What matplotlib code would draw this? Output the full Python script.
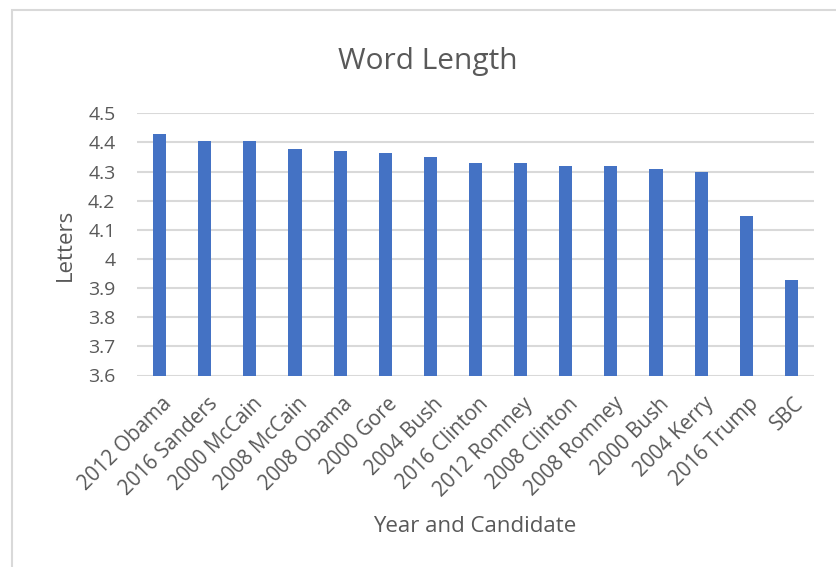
import numpy as np
import matplotlib.pyplot as plt
import matplotlib.transforms as mtransforms
from matplotlib.patches import Rectangle

# promedio de letras por palabra en cada discurso
candidatos = ["2012 Obama", "2016 Sanders", "2000 McCain", "2008 McCain", "2008 Obama",
              "2000 Gore", "2004 Bush", "2016 Clinton", "2012 Romney", "2008 Clinton",
              "2008 Romney", "2000 Bush", "2004 Kerry", "2016 Trump", "SBC"]
letras = [4.43, 4.406, 4.406, 4.377, 4.369, 4.365, 4.351, 4.328, 4.328,
          4.319, 4.319, 4.308, 4.298, 4.149, 3.927]
yticks = [3.6, 3.7, 3.8, 3.9, 4.0, 4.1, 4.2, 4.3, 4.4, 4.5]
ytick_labels = ["3.6", "3.7", "3.8", "3.9", "4", "4.1", "4.2", "4.3", "4.4", "4.5"]

gris = "#595959"
plt.rcParams['font.family'] = ['Open Sans', 'DejaVu Sans']

W, H = 836, 567
fig = plt.figure(figsize=(W/100, H/100), dpi=100)
# marco gris del area del grafico
fig.patches.append(Rectangle((12/W, -0.1), 1.2, 1 - 10/H + 0.1, transform=fig.transFigure,
                             facecolor="white", edgecolor="#d9d9d9", linewidth=1.5, zorder=-1))

ax = fig.add_axes([137/W, 1 - 375.5/H, (814-137)/W, (375.5-113.3)/H])
x = np.arange(len(candidatos))
ax.bar(x, letras, width=0.29, color="#4472C4", zorder=3)
ax.set_xlim(-0.5, len(candidatos) - 0.5)
ax.set_ylim(3.6, 4.5)
ax.set_yticks(yticks)
ax.set_yticklabels(ytick_labels)
ax.grid(axis="y", color="#d9d9d9", linewidth=1.5, zorder=0)
for s in ax.spines.values():
    s.set_visible(False)
ax.tick_params(axis="both", length=0, colors=gris, labelsize=14)
ax.tick_params(axis="x", labelsize=14.8, pad=13)
ax.tick_params(axis="y", pad=15.5)
ax.set_xticks(x)
ax.set_xticklabels(candidatos, rotation=45, ha="right", va="top", rotation_mode="anchor")
desplaza = mtransforms.ScaledTranslation(2/100, 0, fig.dpi_scale_trans)
for lbl in ax.get_xticklabels():
    lbl.set_transform(lbl.get_transform() + desplaza)

ax.set_ylabel("Letters", color=gris, fontsize=16, va="center")
ax.yaxis.set_label_coords((65-137)/677, 0.5)
fig.text(475/W, 1 - 531.7/H, "Year and Candidate", color=gris, fontsize=16,
         ha="center", va="baseline")
fig.text(427.5/W, 1 - 69.3/H, "Word Length", color=gris, fontsize=21.5,
         ha="center", va="baseline")

fig.savefig("out.png", dpi=100)
